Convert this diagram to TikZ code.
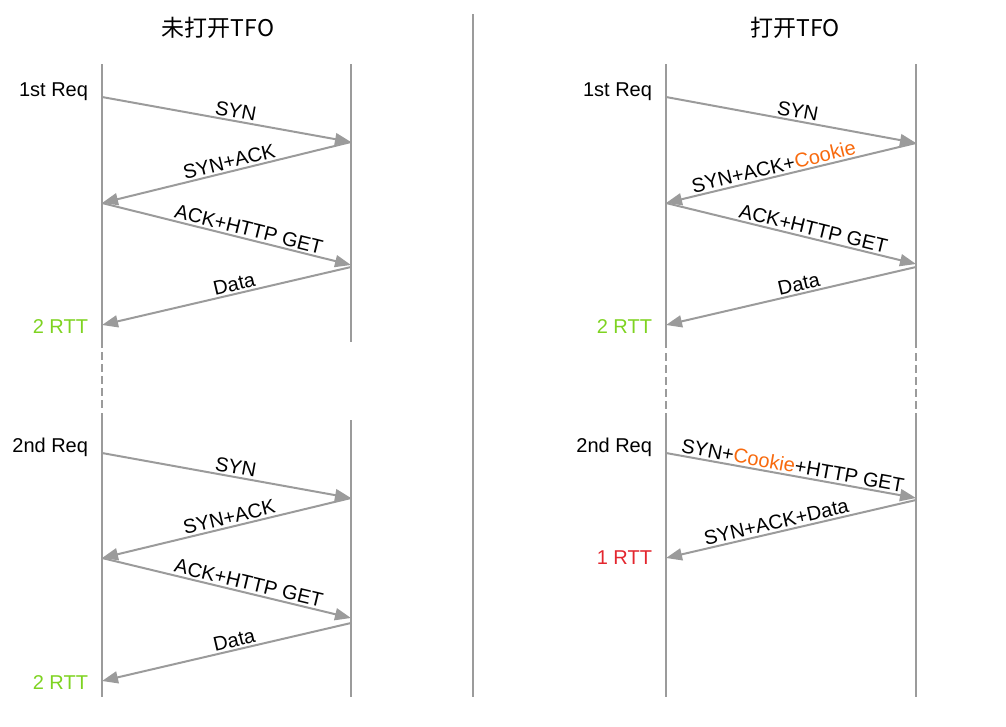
\documentclass[tikz,border=0pt]{standalone}
\usepackage{fontspec}
\setmainfont{Liberation Sans}
\newfontfamily\cjk{Noto Sans CJK SC}
\usetikzlibrary{arrows.meta,positioning,calc}
\definecolor{lgray}{HTML}{9B9B9B}
\definecolor{rttgreen}{HTML}{7ED321}
\definecolor{rttred}{HTML}{E3262E}
\definecolor{cookie}{HTML}{F86A0E}
\newcommand{\Cookie}{\textcolor{cookie}{Cookie}}
\tikzset{
  every picture/.style={line width=2pt},
  tline/.style={draw=lgray, line width=2pt},
  gapline/.style={tline, dash pattern=on 8pt off 4pt},
  msg/.style={draw=lgray, line width=2pt, -{Triangle[length=16pt, width=12pt]}},
  lbl/.style={font=\fontsize{20}{23}\selectfont, sloped, above, inner sep=2pt},
  side/.style={font=\fontsize{20}{23}\selectfont, anchor=east, inner sep=0pt},
  title/.style={font=\cjk\fontsize{23}{26}\selectfont}
}
\begin{document}
\begin{tikzpicture}[x=1pt, y=-1pt]
    \useasboundingbox (0,0) rectangle (1006,726);

    \node [title] (t1) at (218,28) {未打开TFO};
    \node [title] (t2) at (795,28) {打开TFO};

    % time lines
    \draw [tline] (102,64) -- (102,348);
    \draw [gapline] (102,352) -- (102,410);
    \draw [tline] (102,413) -- (102,697);
    \draw [tline] (351,64) -- (351,342);
    \draw [tline] (351,420) -- (351,697);

    \draw [tline] (473,14) -- (473,697);

    \draw [tline] (666,64) -- (666,348);
    \draw [gapline] (666,353) -- (666,410);
    \draw [tline] (666,413) -- (666,697);
    \draw [tline] (916,64) -- (916,348);
    \draw [gapline] (916,353) -- (916,410);
    \draw [tline] (916,413) -- (916,697);

    % end points on the time lines
    \coordinate (a1) at (102,97);  \coordinate (b1) at (351,142);
    \coordinate (a2) at (102,203); \coordinate (b2) at (351,265);
    \coordinate (b3) at (351,267); \coordinate (a3) at (102,325);
    \coordinate (a4) at (102,453); \coordinate (b4) at (351,498);
    \coordinate (a5) at (102,558); \coordinate (b5) at (351,618);
    \coordinate (b6) at (351,623); \coordinate (a6) at (102,681);

    \coordinate (c1) at (666,97);  \coordinate (d1) at (916,143);
    \coordinate (c2) at (666,203); \coordinate (d2) at (916,264);
    \coordinate (d3) at (916,267); \coordinate (c3) at (666,325);
    \coordinate (c4) at (666,453); \coordinate (d4) at (916,498);
    \coordinate (d5) at (916,500); \coordinate (c5) at (666,558);

    % side labels
    \node [side] (r1) at (89,92) {1st Req};
    \node [side, text=rttgreen] (e1) at (89,327) {2 RTT};
    \node [side] (r2) at (89,447) {2nd Req};
    \node [side, text=rttgreen] (e2) at (89,683) {2 RTT};
    \node [side] (r3) at (653,92) {1st Req};
    \node [side, text=rttgreen] (e3) at (653,327) {2 RTT};
    \node [side] (r4) at (653,447) {2nd Req};
    \node [side, text=rttred] (e4) at (653,558) {1 RTT};

    % without TFO
    \draw (a1) edge[msg] node[lbl, pos=0.53]{SYN} (b1);
    \draw (b1) edge[msg] node[lbl, pos=0.48]{SYN+ACK} (a2);
    \draw (a2) edge[msg] node[lbl, pos=0.58]{ACK+HTTP GET} (b2);
    \draw (b3) edge[msg] node[lbl, pos=0.46]{Data} (a3);

    \draw (a4) edge[msg] node[lbl, pos=0.53]{SYN} (b4);
    \draw (b4) edge[msg] node[lbl, pos=0.48]{SYN+ACK} (a5);
    \draw (a5) edge[msg] node[lbl, pos=0.58]{ACK+HTTP GET} (b5);
    \draw (b6) edge[msg] node[lbl, pos=0.46]{Data} (a6);

    % with TFO
    \draw (c1) edge[msg] node[lbl, pos=0.52]{SYN} (d1);
    \draw (d1) edge[msg] node[lbl, pos=0.56]{SYN+ACK+\Cookie} (c2);
    \draw (c2) edge[msg] node[lbl, pos=0.58]{ACK+HTTP GET} (d2);
    \draw (d3) edge[msg] node[lbl, pos=0.46]{Data} (c3);

    \draw (c4) edge[msg] node[lbl, pos=0.50]{SYN+\Cookie+HTTP GET} (d4);
    \draw (d5) edge[msg] node[lbl, pos=0.55]{SYN+ACK+Data} (c5);
\end{tikzpicture}
\end{document}
